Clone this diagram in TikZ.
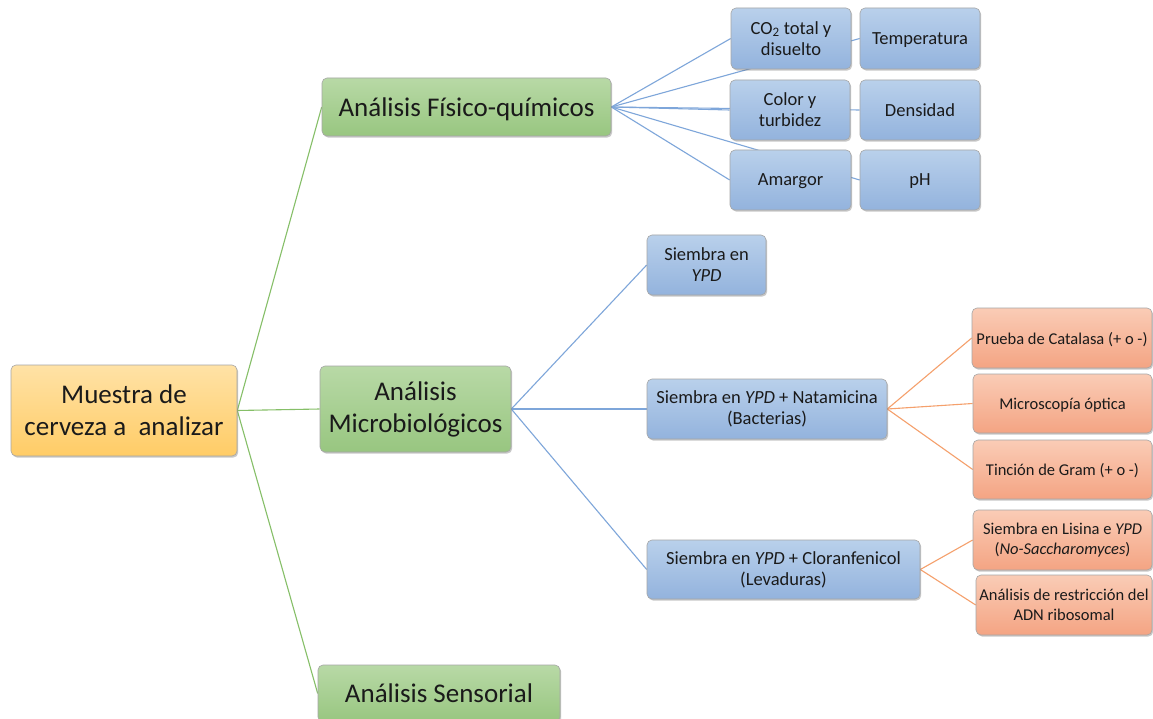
\documentclass[tikz,border=0pt]{standalone}
\usepackage{fontspec}
\setmainfont{Carlito}
\usetikzlibrary{shadows}
\pgfdeclarelayer{bg}
\pgfsetlayers{bg,main}
\definecolor{rootTop}{HTML}{FFE2A6}
\definecolor{rootBot}{HTML}{FFCC66}
\definecolor{grnTop}{HTML}{B8D9A6}
\definecolor{grnBot}{HTML}{98C680}
\definecolor{bluTop}{HTML}{B9D0EB}
\definecolor{bluBot}{HTML}{93B3DD}
\definecolor{salTop}{HTML}{FACCB6}
\definecolor{salBot}{HTML}{F4A483}
\definecolor{gLine}{HTML}{86BF68}
\definecolor{bLine}{HTML}{7EA6DA}
\definecolor{oLine}{HTML}{F5A06C}
\definecolor{txt}{HTML}{1A1A1A}
\tikzset{
  box/.style={rounded corners=5pt, draw=black!35, line width=0.6pt, inner sep=0pt,
    align=center, text=txt,
    drop shadow={shadow xshift=1.2pt, shadow yshift=-1.6pt, opacity=0.3, fill=black!70}},
  rootbox/.style={box, top color=rootTop, bottom color=rootBot, font=\fontsize{27}{32}\selectfont},
  greenbox/.style={box, top color=grnTop, bottom color=grnBot, font=\fontsize{27}{32}\selectfont},
  bluebox/.style={box, top color=bluTop, bottom color=bluBot, font=\fontsize{18.5}{21}\selectfont},
  salbox/.style={box, top color=salTop, bottom color=salBot, font=\fontsize{16.5}{20}\selectfont},
  one/.style={text depth=0pt},
  gline/.style={draw=gLine, line width=1.1pt},
  bline/.style={draw=bLine, line width=1.1pt},
  oline/.style={draw=oLine, line width=1.1pt},
  sz/.style 2 args={minimum width=#1pt, minimum height=#2pt}
}
\begin{document}
\begin{tikzpicture}[x=1pt,y=-1pt]
\begin{pgfonlayer}{bg}
\fill[white] (0,0) rectangle (1153,719);
\end{pgfonlayer}
\useasboundingbox (0,0) rectangle (1153,719);

% level 0 and 1
\node[rootbox, sz={226}{91}] (root) at (124,410.5) {Muestra de\\cerveza a~ analizar};
\node[greenbox, one, sz={289}{58}] (fis) at (466.5,107) {Análisis Físico-químicos};
\node[greenbox, sz={191}{86}] (mic) at (415.5,409) {Análisis\\Microbiológicos};
\node[greenbox, one, sz={242}{57}] (sen) at (439,693.5) {Análisis Sensorial};

% physico-chemical
\node[bluebox, sz={120}{61}] (co2) at (791,38.5) {CO\textsubscript{2} total y\\disuelto};
\node[bluebox, one, sz={120}{61}] (tem) at (920,38.5) {Temperatura};
\node[bluebox, sz={120}{60}] (col) at (790,110) {Color y\\turbidez};
\node[bluebox, one, sz={120}{60}] (den) at (920,110) {Densidad};
\node[bluebox, one, sz={121}{60}] (ama) at (790.5,180) {Amargor};
\node[bluebox, one, sz={120}{60}] (ph) at (920,180) {pH};

% microbiological
\node[bluebox, sz={119}{60}] (ypd) at (706.5,265) {Siembra en\\\textit{YPD}};
\node[bluebox, sz={240}{60}] (nat) at (767,409) {Siembra en \textit{YPD} + Natamicina\\(Bacterias)};
\node[bluebox, sz={273}{59}] (clo) at (783.5,569.5) {Siembra en \textit{YPD} + Cloranfenicol\\(Levaduras)};

\node[salbox, one, sz={180}{60}] (cat) at (1062,338) {Prueba de Catalasa (+ o -)};
\node[salbox, one, sz={179}{59}] (mop) at (1062.5,403.5) {Microscopía óptica};
\node[salbox, one, sz={179}{59}] (gra) at (1062.5,469.5) {Tinción de Gram (+ o -)};
\node[salbox, sz={179}{60}] (lis) at (1062.5,540) {Siembra en Lisina e \textit{YPD}\\(\textit{No-Saccharomyces})};
\node[salbox, sz={176}{60}] (adn) at (1064,605) {Análisis de restricción del\\ADN ribosomal};

\begin{pgfonlayer}{bg}
\draw[gline] (root.east) -- (fis.west);
\draw[gline] (root.east) -- (mic.west);
\draw[gline] (root.east) -- (sen.west);
\foreach \t in {co2,tem,col,den,ama,ph} \draw[bline] (fis.east) -- (\t.west);
\foreach \t in {ypd,nat,clo} \draw[bline] (mic.east) -- (\t.west);
\foreach \t in {cat,mop,gra} \draw[oline] (nat.east) -- (\t.west);
\foreach \t in {lis,adn} \draw[oline] (clo.east) -- (\t.west);
\end{pgfonlayer}
\end{tikzpicture}
\end{document}
